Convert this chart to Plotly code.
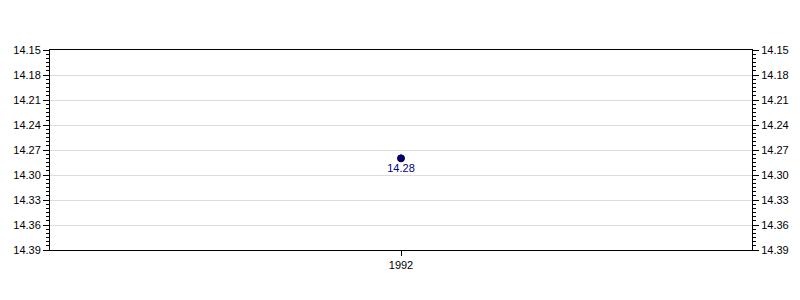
import plotly.graph_objects as go

years = [1992]
values = [14.28]
labels = ["14.28"]
y_ticks = [14.15, 14.18, 14.21, 14.24, 14.27, 14.30, 14.33, 14.36, 14.39]

font = dict(family="Liberation Sans, Arial, sans-serif", size=11, color="black")

fig = go.Figure()
fig.add_trace(go.Scatter(
    x=years, y=values, mode="markers+text", text=labels,
    textposition="bottom center",
    textfont=dict(family="Liberation Sans, Arial, sans-serif", size=11, color="#000080"),
    marker=dict(size=7, color="#000080", line=dict(color="#000033", width=1)),
    showlegend=False, hoverinfo="skip",
))
fig.add_trace(go.Scatter(
    x=years, y=values, yaxis="y2", mode="markers",
    marker=dict(size=1, opacity=0), showlegend=False, hoverinfo="skip",
))

yax = dict(
    range=[max(y_ticks), min(y_ticks)],
    tickvals=y_ticks, ticktext=[f"{v:.2f}" for v in y_ticks],
    ticks="outside", ticklen=6, tickcolor="black", tickwidth=1,
    showline=True, linecolor="black", linewidth=1,
    showgrid=True, gridcolor="#dcdcdc", gridwidth=1,
    zeroline=False, tickfont=font,
    minor=dict(dtick=0.005, tick0=14.15, ticks="outside", ticklen=3,
               tickcolor="black", showgrid=False),
)

fig.update_layout(
    width=800, height=300,
    margin=dict(l=50, r=48, t=50, b=50),
    paper_bgcolor="white", plot_bgcolor="white",
    xaxis=dict(
        range=[1991, 1993], tickvals=years, ticktext=[str(y) for y in years],
        ticks="outside", ticklen=5, tickcolor="black",
        showline=True, linecolor="black", linewidth=1, mirror=True,
        showgrid=False, zeroline=False, tickfont=font,
    ),
    yaxis=yax,
    yaxis2=dict(yax, overlaying="y", side="right", showgrid=False, matches="y"),
)

fig.write_html("out.html")
